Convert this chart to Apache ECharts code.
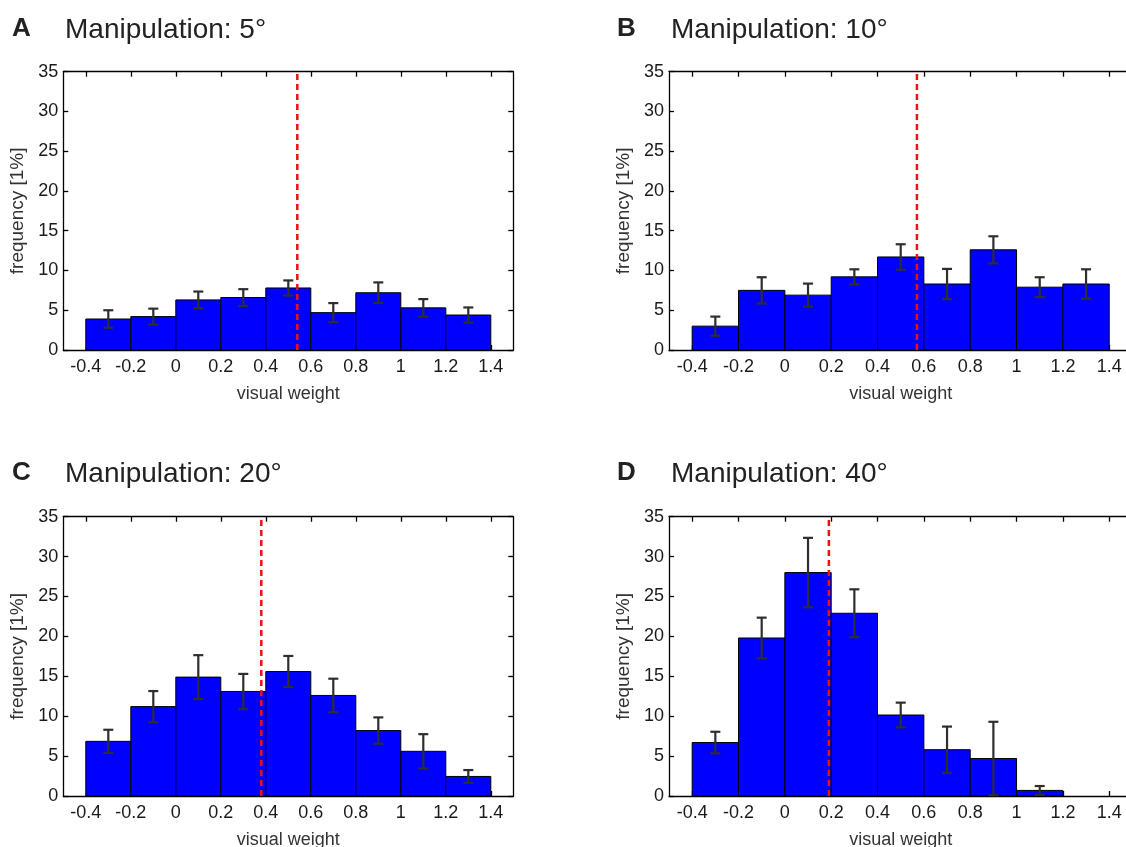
<!DOCTYPE html>
<html>
<head>
<meta charset="utf-8">
<script src="https://cdn.jsdelivr.net/npm/echarts@6/dist/echarts.min.js"></script>
<style>
html,body{margin:0;padding:0;background:#fff;}
#chart{width:1126px;height:847px;}
</style>
</head>
<body>
<div id="chart"></div>
<script>
// ---- data ----
const binCenters = [-0.3, -0.1, 0.1, 0.3, 0.5, 0.7, 0.9, 1.1, 1.3];
const binWidth = 0.2;
const xTicks = [-0.4, -0.2, 0, 0.2, 0.4, 0.6, 0.8, 1, 1.2, 1.4];
const panelLetters = ['A', 'B', 'C', 'D'];
const panelTitles = ['Manipulation: 5°', 'Manipulation: 10°', 'Manipulation: 20°', 'Manipulation: 40°'];
const freqA = [3.9, 4.2, 6.3, 6.6, 7.8, 4.7, 7.2, 5.3, 4.4];
const errA  = [1.1, 1.0, 1.05, 1.05, 0.95, 1.2, 1.3, 1.1, 0.95];
const freqB = [3.0, 7.5, 6.9, 9.2, 11.7, 8.3, 12.6, 7.9, 8.3];
const errB  = [1.2, 1.65, 1.45, 0.95, 1.6, 1.9, 1.7, 1.25, 1.85];
const freqC = [6.85, 11.2, 14.9, 13.1, 15.6, 12.6, 8.2, 5.6, 2.45];
const errC  = [1.45, 1.95, 2.75, 2.2, 1.95, 2.1, 1.65, 2.15, 0.8];
const freqD = [6.7, 19.8, 28.0, 22.9, 10.15, 5.8, 4.7, 0.7, 0];
const errD  = [1.35, 2.55, 4.35, 3.0, 1.55, 2.9, 4.6, 0.55, 0];
const meanWeights = [0.54, 0.57, 0.38, 0.19];

const freqs = [freqA, freqB, freqC, freqD];
const errs = [errA, errB, errC, errD];

// ---- layout ----
const FONT = 'Liberation Sans, Arial, Helvetica, sans-serif';
const TXT = '#1a1a1a';
const grids = [
  {left: 63.3, top: 71.7, width: 450, height: 278.3},
  {left: 669, top: 71.7, width: 463.4, height: 278.3},
  {left: 63.3, top: 516.7, width: 450, height: 279.3},
  {left: 669, top: 516.7, width: 463.4, height: 279.3}
];
const showRightAxis = [true, false, true, false];
const titlePos = [
  {lx: 12, tx: 65, y: 32},
  {lx: 617, tx: 671, y: 32},
  {lx: 12, tx: 65, y: 476},
  {lx: 617, tx: 671, y: 476}
];

const axisLine = {show: true, onZero: false, lineStyle: {color: '#000', width: 1.3}};
const fmt = v => String(+(+v).toFixed(1));

const xAxes = [], yAxes = [], series = [], graphics = [];
grids.forEach((g, i) => {
  xAxes.push({
    type: 'value', gridIndex: i, min: -0.5, max: 1.5, position: 'bottom',
    axisLine: axisLine, splitLine: {show: false},
    axisTick: {show: true, inside: true, length: 5, customValues: xTicks, lineStyle: {color: '#000', width: 1.3}},
    axisLabel: {show: true, customValues: xTicks, formatter: fmt, fontSize: 18, fontFamily: FONT, color: TXT, margin: 8},
    name: 'visual weight', nameLocation: 'middle', nameGap: 35,
    nameTextStyle: {fontSize: 18, fontFamily: FONT, color: '#333'}
  });
  xAxes.push({
    type: 'value', gridIndex: i, min: -0.5, max: 1.5, position: 'top',
    axisLine: axisLine, splitLine: {show: false},
    axisTick: {show: true, inside: true, length: 5, customValues: xTicks, lineStyle: {color: '#000', width: 1.3}},
    axisLabel: {show: false}
  });
  yAxes.push({
    type: 'value', gridIndex: i, min: 0, max: 35, interval: 5, position: 'left',
    axisLine: axisLine, splitLine: {show: false},
    axisTick: {show: true, inside: true, length: 5, lineStyle: {color: '#000', width: 1.3}},
    axisLabel: {fontSize: 18, fontFamily: FONT, color: TXT, margin: 5},
    name: 'frequency [1%]', nameLocation: 'middle', nameGap: 36, nameRotate: 90,
    nameTextStyle: {fontSize: 19, fontFamily: FONT, color: '#333'}
  });
  yAxes.push({
    type: 'value', gridIndex: i, min: 0, max: 35, interval: 5, position: 'right',
    show: showRightAxis[i],
    axisLine: axisLine, splitLine: {show: false},
    axisTick: {show: true, inside: true, length: 5, lineStyle: {color: '#000', width: 1.3}},
    axisLabel: {show: false}
  });

  const data = binCenters.map((c, j) => [c, freqs[i][j], errs[i][j]]);
  series.push({
    type: 'custom', xAxisIndex: 2 * i, yAxisIndex: 2 * i, z: 2,
    encode: {x: 0, y: 1},
    data: data,
    renderItem: function (params, api) {
      const x = api.value(0), v = api.value(1);
      if (!v) return null;
      const p0 = api.coord([x - binWidth / 2, v]);
      const p1 = api.coord([x + binWidth / 2, 0]);
      return {
        type: 'rect',
        shape: {x: p0[0], y: p0[1], width: p1[0] - p0[0], height: p1[1] - p0[1]},
        style: {fill: '#0000ff', stroke: '#000', lineWidth: 1}
      };
    }
  });
  series.push({
    type: 'custom', xAxisIndex: 2 * i, yAxisIndex: 2 * i, z: 4,
    encode: {x: 0, y: 1},
    data: data,
    renderItem: function (params, api) {
      const x = api.value(0), v = api.value(1), e = api.value(2);
      if (!v) return null;
      const hi = api.coord([x, v + e]);
      const lo = api.coord([x, Math.max(0, v - e)]);
      const cw = 5;
      const st = {stroke: '#2e2e2e', lineWidth: 2.2};
      return {
        type: 'group',
        children: [
          {type: 'line', shape: {x1: hi[0], y1: hi[1], x2: lo[0], y2: lo[1]}, style: st},
          {type: 'line', shape: {x1: hi[0] - cw, y1: hi[1], x2: hi[0] + cw, y2: hi[1]}, style: st},
          {type: 'line', shape: {x1: lo[0] - cw, y1: lo[1], x2: lo[0] + cw, y2: lo[1]}, style: st}
        ]
      };
    }
  });
  series.push({
    type: 'line', xAxisIndex: 2 * i, yAxisIndex: 2 * i, z: 5,
    symbol: 'none', silent: true,
    data: [[meanWeights[i], 0], [meanWeights[i], 35]],
    lineStyle: {color: '#f01010', width: 2.5, type: [6, 4]}
  });

  const tp = titlePos[i];
  graphics.push({
    type: 'text', left: tp.lx, top: tp.y - 16,
    style: {text: panelLetters[i], font: 'bold 26px ' + FONT, fill: '#222'}
  });
  graphics.push({
    type: 'text', left: tp.tx, top: tp.y - 16,
    style: {text: panelTitles[i], font: '28px ' + FONT, fill: '#222'}
  });
});

const chart = echarts.init(document.getElementById('chart'), null, {renderer: 'canvas'});
chart.setOption({
  animation: false,
  backgroundColor: '#fff',
  grid: grids.map(g => Object.assign({containLabel: false, outerBoundsMode: 'none'}, g)),
  xAxis: xAxes,
  yAxis: yAxes,
  series: series,
  graphic: graphics
});
</script>
</body>
</html>
